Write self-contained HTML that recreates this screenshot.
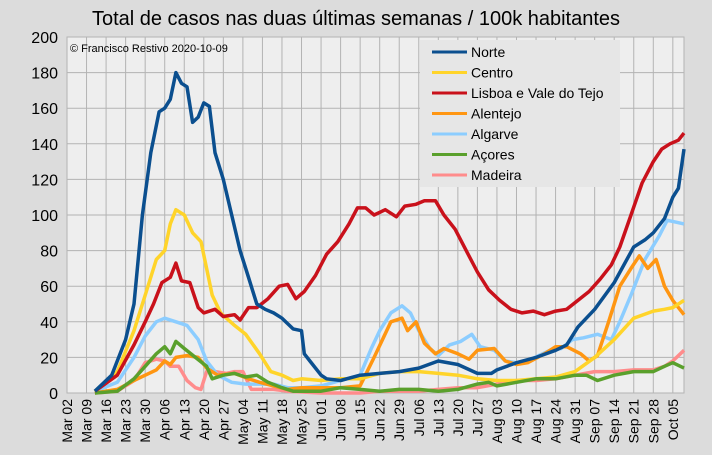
<!DOCTYPE html>
<html><head><meta charset="utf-8"><style>
body{margin:0;background:#dcdcdc;}
svg{display:block;font-family:"Liberation Sans",sans-serif;}
</style></head><body>
<svg id="chart" width="712" height="455">
<rect width="712" height="455" fill="#dcdcdc"/>
<text x="356" y="25" font-size="20" text-anchor="middle" fill="#000">Total de casos nas duas últimas semanas / 100k habitantes</text>
<rect x="67" y="37" width="617" height="356" fill="#eeeeee"/>
<g id="grid"></g><g id="series"></g><g id="axes"></g>
<text x="70" y="52" font-size="11" fill="#000">© Francisco Restivo 2020-10-09</text>
<g id="legend"></g>
</svg>
<script>
const seriesNames=["Norte","Centro","Lisboa e Vale do Tejo","Alentejo","Algarve","Açores","Madeira"];
const seriesColors=["#0b4f8f","#ffd42a","#c9111b","#ff9612","#8ccdff","#5aa02c","#ff8c8c"];
const yTicks=[0,20,40,60,80,100,120,140,160,180,200];
const xTickLabels=["Mar 02","Mar 09","Mar 16","Mar 23","Mar 30","Apr 06","Apr 13","Apr 20","Apr 27","May 04","May 11","May 18","May 25","Jun 01","Jun 08","Jun 15","Jun 22","Jun 29","Jul 06","Jul 13","Jul 20","Jul 27","Aug 03","Aug 10","Aug 17","Aug 24","Aug 31","Sep 07","Sep 14","Sep 21","Sep 28","Oct 05"];
const norteDates=["03-12","03-18","03-23","03-26","03-29","04-01","04-04","04-06","04-08","04-10","04-12","04-14","04-16","04-18","04-20","04-22","04-24","04-27","04-30","05-03","05-06","05-09","05-12","05-15","05-18","05-22","05-25","05-26","05-28","06-01","06-03","06-08","06-15","06-22","06-29","07-06","07-13","07-20","07-27","08-01","08-03","08-10","08-17","08-24","08-28","09-01","09-07","09-14","09-21","09-25","09-28","10-02","10-05","10-07","10-09"];
const norteValues=[1,10,30,50,100,135,158,160,165,180,174,172,152,155,163,161,135,120,100,80,65,50,47,45,42,36,35,22,18,10,8,7,10,11,12,14,18,16,11,11,13,17,20,24,27,37,47,62,82,86,90,98,110,115,137];
const centroDates=["03-12","03-20","03-26","03-30","04-03","04-06","04-08","04-10","04-13","04-16","04-19","04-21","04-23","04-26","05-01","05-05","05-10","05-14","05-18","05-22","05-25","06-01","06-08","06-15","06-22","06-29","07-06","07-13","07-20","07-27","08-03","08-10","08-17","08-24","08-31","09-07","09-14","09-21","09-28","10-02","10-05","10-09"];
const centroValues=[1,12,35,55,75,80,95,103,100,90,85,70,55,45,38,33,22,12,10,7,8,7,8,8,11,12,12,11,10,8,7,7,8,9,12,20,30,42,46,47,48,52];
const lisboaDates=["03-12","03-20","03-26","03-30","04-02","04-05","04-08","04-10","04-12","04-15","04-18","04-20","04-24","04-27","05-01","05-03","05-06","05-09","05-13","05-17","05-20","05-23","05-26","05-30","06-03","06-07","06-11","06-14","06-17","06-20","06-24","06-28","07-01","07-05","07-08","07-12","07-15","07-19","07-23","07-27","07-31","08-04","08-08","08-12","08-16","08-20","08-24","08-28","09-01","09-05","09-09","09-13","09-16","09-20","09-24","09-28","10-01","10-04","10-07","10-09"];
const lisboaValues=[1,10,27,40,50,62,65,73,63,62,48,45,47,43,44,41,48,48,53,60,61,53,57,66,78,85,95,104,104,100,103,99,105,106,108,108,100,92,80,68,58,52,47,45,46,44,46,47,52,57,64,72,82,100,118,130,137,140,142,146];
const alentejoDates=["03-12","03-20","03-26","03-30","04-03","04-06","04-08","04-10","04-14","04-18","04-21","04-25","05-01","05-06","05-10","05-15","05-20","05-25","06-01","06-08","06-15","06-20","06-23","06-26","06-30","07-02","07-05","07-08","07-12","07-15","07-20","07-24","07-27","08-02","08-06","08-10","08-14","08-20","08-24","08-28","09-02","09-05","09-08","09-12","09-16","09-20","09-23","09-26","09-29","10-02","10-05","10-09"];
const alentejoValues=[0,2,7,10,13,18,16,20,21,20,14,10,11,8,6,4,2,3,3,3,4,20,30,40,42,35,40,28,22,25,22,19,24,25,18,16,17,22,26,26,22,18,21,40,60,70,77,70,75,60,52,44];
const algarveDates=["03-12","03-20","03-26","03-30","04-03","04-06","04-10","04-14","04-18","04-21","04-25","04-30","05-05","05-10","05-15","05-20","05-25","06-01","06-08","06-15","06-19","06-22","06-26","06-30","07-03","07-06","07-10","07-13","07-17","07-21","07-25","07-28","08-02","08-06","08-10","08-14","08-18","08-22","08-26","08-30","09-03","09-08","09-13","09-16","09-20","09-25","09-30","10-03","10-06","10-09"];
const algarveValues=[1,6,20,32,40,42,40,38,30,18,10,6,5,5,5,3,3,4,7,10,25,35,45,49,45,35,25,21,27,29,33,26,24,18,17,18,21,24,25,30,31,33,30,40,55,75,88,97,96,95];
const acoresDates=["03-12","03-20","03-26","03-30","04-03","04-06","04-08","04-10","04-13","04-17","04-21","04-23","04-27","05-01","05-05","05-09","05-13","05-18","05-22","06-01","06-08","06-15","06-22","06-29","07-06","07-13","07-20","07-27","07-31","08-03","08-10","08-17","08-24","08-31","09-04","09-08","09-14","09-21","09-28","10-02","10-05","10-09"];
const acoresValues=[0,1,8,15,22,26,22,29,25,20,15,8,10,11,9,10,6,3,1,1,3,2,1,2,2,1,2,5,6,4,6,8,8,10,10,7,10,12,12,15,17,14];
const madeiraDates=["03-12","03-20","03-26","03-30","04-03","04-06","04-08","04-11","04-14","04-17","04-19","04-21","04-24","04-28","05-01","05-04","05-07","05-10","05-15","05-20","06-01","06-15","06-22","07-06","07-13","07-20","07-27","08-03","08-10","08-17","08-24","08-31","09-07","09-14","09-21","09-28","10-02","10-05","10-09"];
const madeiraValues=[0,1,7,17,19,18,15,15,7,3,2,12,12,11,12,12,2,2,2,1,0,0,1,1,2,3,3,5,7,7,8,10,12,12,13,13,15,18,24];

const allDates=[norteDates,centroDates,lisboaDates,alentejoDates,algarveDates,acoresDates,madeiraDates];
const allValues=[norteValues,centroValues,lisboaValues,alentejoValues,algarveValues,acoresValues,madeiraValues];
const NS="http://www.w3.org/2000/svg";
const X0=67,X1=684,Y0=393,Y1=37;
const base=Date.UTC(2020,2,2);
function dayOf(s){const p=s.split("-");return (Date.UTC(2020,+p[0]-1,+p[1])-base)/86400000;}
function xScale(d){return X0+d*(X1-X0)/221;}
function yScale(v){return Y0-v*(Y0-Y1)/200;}
function mk(tag,attrs,parent){const e=document.createElementNS(NS,tag);for(const k in attrs)e.setAttribute(k,attrs[k]);parent.appendChild(e);return e;}
const grid=document.getElementById("grid"),axes=document.getElementById("axes"),ser=document.getElementById("series"),leg=document.getElementById("legend");
yTicks.forEach(v=>{
  const l=mk("line",{x1:X0,x2:X1,y1:yScale(v),y2:yScale(v),stroke:"#b3b3b3","stroke-width":1},grid);
  
  
  const t=mk("text",{x:X0-9,y:yScale(v)+6,"font-size":16,"text-anchor":"end",fill:"#000"},axes);
  t.textContent=v;
  
  
});
xTickLabels.forEach((lab,i)=>{
  const x=xScale(i*7);
  const l=mk("line",{x1:x,x2:x,y1:Y1,y2:Y0,stroke:"#b3b3b3","stroke-width":1},grid);
  
  
  const t=mk("text",{x:0,y:0,"font-size":14,"text-anchor":"end",fill:"#000",transform:`translate(${x+5},${Y0+6}) rotate(-90)`},axes);
  t.textContent=lab;
  
  
});
mk("rect",{x:X0,y:Y1,width:X1-X0,height:Y0-Y1,fill:"none",stroke:"#b3b3b3"},grid);
[6,4,3,1,5,2,0].forEach(i=>{
  const pts=allDates[i].map((d,j)=>xScale(dayOf(d)).toFixed(1)+","+yScale(allValues[i][j]).toFixed(1)).join(" ");
  const p=mk("polyline",{points:pts,fill:"none",stroke:seriesColors[i],"stroke-width":3.5,"stroke-linejoin":"round"},ser);
  
  
});
const lb=mk("rect",{x:420,y:40,width:200,height:147,fill:"#e6e6e6"},leg);


seriesNames.forEach((n,i)=>{
  const y=52+i*20.5;
  const g=mk("g",{},leg);
  
  
  mk("line",{x1:432,x2:467,y1:y,y2:y,stroke:seriesColors[i],"stroke-width":3},g);
  const t=mk("text",{x:471,y:y+5,"font-size":14,fill:"#000"},g);
  t.textContent=n;
});
</script>
</body></html>
